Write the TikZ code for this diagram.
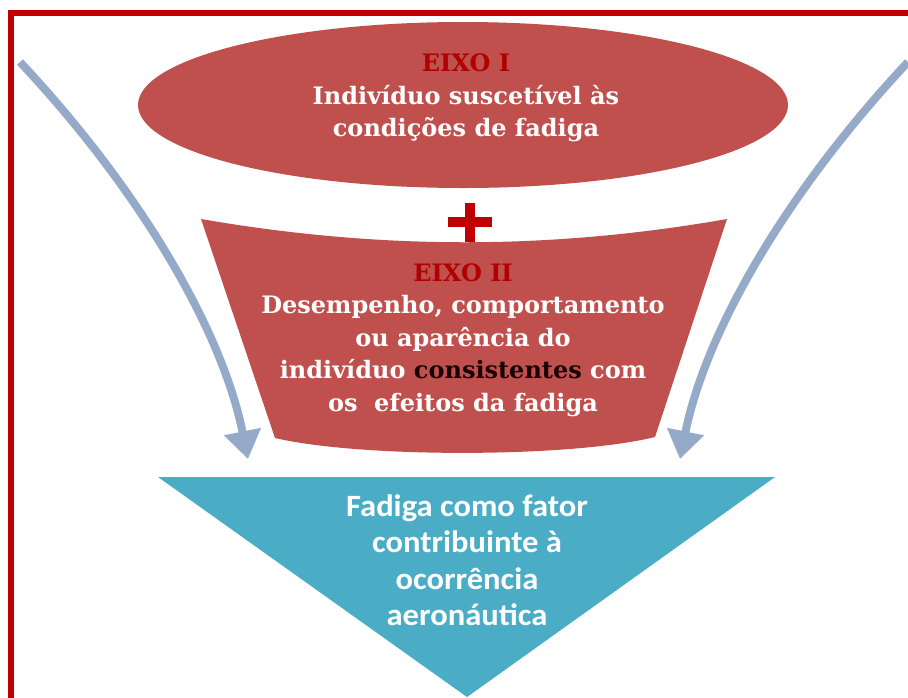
\documentclass[tikz,border=0pt]{standalone}
\usepackage{fontspec}
\setmainfont{DejaVu Serif}
\newfontfamily\calib{Carlito}[FakeStretch=1.05]
\usetikzlibrary{shapes.geometric,arrows.meta}
\definecolor{axisred}{HTML}{C0504D}
\definecolor{eixored}{HTML}{B00000}
\definecolor{framered}{HTML}{C00000}
\definecolor{teal}{HTML}{4BACC6}
\definecolor{arrowc}{HTML}{95AAC8}
\tikzset{
  serift/.style={font=\bfseries\fontsize{24}{32.5}\selectfont, text=white, align=center, inner sep=0pt},
  sanst/.style={font=\calib\bfseries\fontsize{31}{36.5}\selectfont, text=white, align=center, inner sep=0pt},
  bendarrow/.style={draw=arrowc, line width=8pt, -{Triangle[width=36pt,length=28pt]}},
}
\begin{document}
\begin{tikzpicture}[x=1pt,y=-1pt]
\useasboundingbox (0,0) rectangle (908,697);
\fill[white] (0,0) rectangle (908,697);
% frame
\draw[framered, line width=6pt] (11,720) -- (11,13) -- (930,13);
% ellipse
\node[ellipse, fill=axisred, minimum width=650pt, minimum height=166pt, inner sep=0pt] (eixo1) at (463,105) {};
\node[serift] (eixo1txt) at (466,98) {{\color{eixored}EIXO I}\\Indivíduo suscetível às\\condições de fadiga};
% plus
\fill[framered] (448,217) rectangle (492,227);
\fill[framered] (465,203) rectangle (475,242);
% trapezoid
\fill[axisred] (201,219) .. controls (380,250) and (550,250) .. (727,219)
  -- (655,437) .. controls (570,458) and (360,458) .. (275,438) -- cycle;
\node[serift] (eixo2txt) at (463,340) {{\color{eixored}EIXO II}\\Desempenho, comportamento\\ou aparência do\\indivíduo {\color{black!90!red}consistentes} com\\os~ efeitos da fadiga};
% triangle
\fill[teal] (158,477) -- (775,477) -- (467,697) -- cycle;
\node[sanst] (resulttxt) at (467,560) {Fadiga como fator\\contribuinte à\\ocorrência\\aeronáutica};
% arrows
\coordinate (ls) at (20,62);
\coordinate (lt) at (248,459);
\coordinate (rs) at (908,62);
\coordinate (rt) at (680,459);
\draw[bendarrow] (ls) .. controls (140,190) and (222,330) .. (lt);
\draw[bendarrow] (rs) .. controls (788,190) and (706,330) .. (rt);
\end{tikzpicture}
\end{document}
